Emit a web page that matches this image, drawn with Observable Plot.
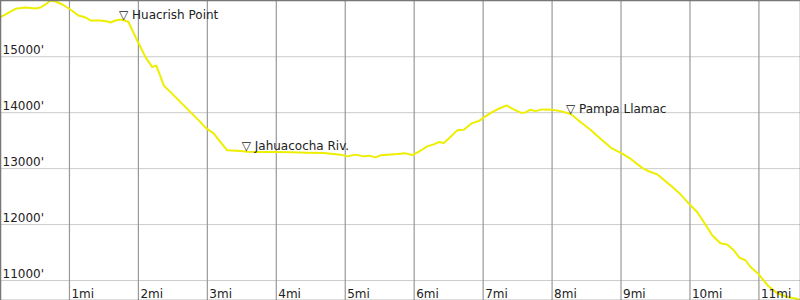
<!DOCTYPE html>
<html>
<head>
<meta charset="utf-8">
<script src="https://cdn.jsdelivr.net/npm/d3@7"></script>
<script src="https://cdn.jsdelivr.net/npm/@observablehq/plot@0.6"></script>
<style>
  html, body { margin: 0; padding: 0; background: #fff; }
  #chart svg { display: block; font-family: "DejaVu Sans", sans-serif; }
</style>
</head>
<body>
<div id="chart"></div>
<script>
// Trail profile: distance (miles) and elevation (feet)
const miles = [0.00,0.073,0.218,0.363,0.508,0.580,0.653,0.725,0.798,0.899,1.015,1.131,1.233,1.305,1.450,1.552,1.595,1.668,1.740,1.798,1.856,1.983,2.103,2.200,2.258,2.296,2.368,2.466,2.611,2.756,2.876,2.973,3.094,3.191,3.288,3.481,3.578,3.723,3.964,4.206,4.448,4.689,4.931,5.028,5.149,5.269,5.342,5.439,5.511,5.608,5.753,5.874,5.971,6.043,6.091,6.188,6.284,6.357,6.429,6.526,6.624,6.720,6.841,6.937,7.034,7.131,7.227,7.339,7.421,7.542,7.614,7.687,7.759,7.856,8.001,8.122,8.219,8.280,8.412,8.557,8.702,8.872,8.992,9.137,9.307,9.403,9.524,9.717,9.862,10.007,10.104,10.200,10.322,10.442,10.539,10.635,10.718,10.805,10.878,10.998,11.124,11.265,11.410,11.530,11.603];
const elevations = [15707,15755,15857,15880,15862,15880,15934,16005,15987,15934,15844,15737,15701,15648,15648,15630,15612,15648,15666,15648,15621,15291,14993,14814,14844,14725,14487,14368,14189,14010,13862,13732,13625,13475,13327,13314,13300,13296,13296,13291,13285,13278,13250,13219,13250,13219,13232,13201,13237,13250,13260,13273,13243,13285,13320,13398,13434,13475,13457,13564,13684,13696,13814,13850,13934,14010,14071,14130,14071,14000,14005,14053,14028,14059,14053,14028,13993,13969,13832,13696,13535,13357,13285,13178,13014,12952,12898,12701,12541,12344,12225,12046,11809,11666,11644,11541,11407,11362,11242,11112,10916,10773,10707,10678,10648];

// Landmarks
const placeNames = ["Huacrish Point", "Jahuacocha Riv.", "Pampa Llamac"];
const placeMiles = [1.798, 3.578, 8.280];
const placeElevations = [15648, 13300, 13969];

// Tick values
const mileTicks = [1,2,3,4,5,6,7,8,9,10,11];
const mileLabels = ["1mi","2mi","3mi","4mi","5mi","6mi","7mi","8mi","9mi","10mi","11mi"];
const feetTicks = [11000,12000,13000,14000,15000];
const feetLabels = ["11000'","12000'","13000'","14000'","15000'"];

const profile = miles.map((m, i) => ({mi: m, ft: elevations[i]}));
const places = placeNames.map((n, i) => ({name: n, mi: placeMiles[i], ft: placeElevations[i]}));
const xt = mileTicks.map((v, i) => ({v, label: mileLabels[i]}));
const yt = feetTicks.map((v, i) => ({v, label: feetLabels[i]}));

const chart = Plot.plot({
  width: 800,
  height: 300,
  margin: 0,
  style: {fontFamily: "DejaVu Sans, sans-serif", fontSize: "12px", background: "#fff"},
  x: {domain: [0, 11.603], axis: null},
  y: {domain: [10643, 16005], axis: null},
  marks: [
    Plot.ruleY(yt, {y: "v", stroke: "#cccccc", strokeWidth: 1}),
    Plot.ruleX(xt, {x: "v", stroke: "#999999", strokeWidth: 1.2}),
    Plot.line(profile, {x: "mi", y: "ft", stroke: "#eeee00", strokeWidth: 2, curve: "linear"}),
    Plot.text(yt, {y: "v", text: "label", frameAnchor: "left", textAnchor: "start", lineAnchor: "bottom", dx: 2, dy: -3, fill: "#222", fontSize: 12}),
    Plot.text(xt, {x: "v", text: "label", frameAnchor: "bottom", textAnchor: "start", lineAnchor: "bottom", dx: 2, dy: -3, fill: "#222", fontSize: 12}),
    Plot.text(places, {x: "mi", y: "ft", text: d => "\u25BD " + d.name, textAnchor: "start", lineAnchor: "bottom", dx: -5.5, dy: -1.5, fill: "#222", fontSize: 12}),
    Plot.frame({stroke: "#777", strokeWidth: 1.5})
  ]
});
document.getElementById("chart").appendChild(chart);
</script>
</body>
</html>
